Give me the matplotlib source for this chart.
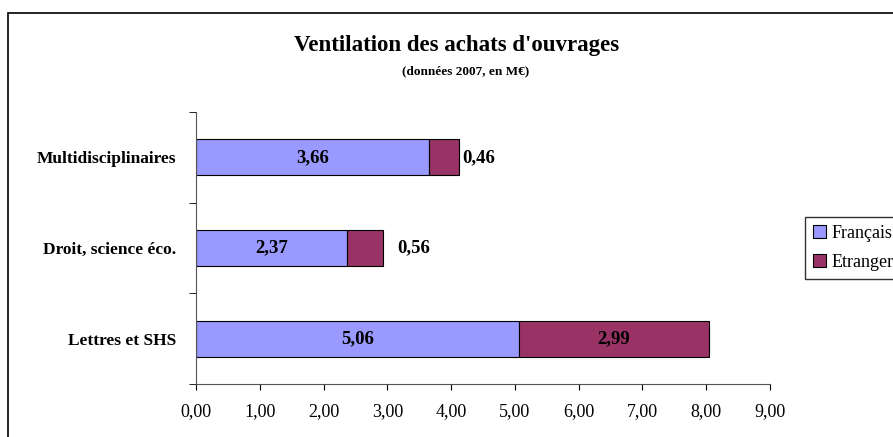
import matplotlib.pyplot as plt
from matplotlib.patches import Rectangle

plt.rcParams['font.family'] = ['Liberation Serif', 'DejaVu Serif']

categories = ["Lettres et SHS", "Droit, science éco.", "Multidisciplinaires"]
francais = [5.06, 2.37, 3.66]
etrangers = [2.99, 0.56, 0.46]
series_names = ["Français", "Etrangers"]
xticks = [0, 1, 2, 3, 4, 5, 6, 7, 8, 9]

c_fr = "#9999FF"
c_et = "#993366"


def fmt(v):
    return f"{v:.2f}".replace(".", ",")


fig = plt.figure(figsize=(8.93, 4.37), dpi=100)
ax = fig.add_axes([196 / 893, 1 - 384 / 437, 574 / 893, 272 / 437])

y = list(range(len(categories)))
b1 = ax.barh(y, francais, height=0.4, color=c_fr, edgecolor="black", linewidth=0.8,
             label=series_names[0])
b2 = ax.barh(y, etrangers, left=francais, height=0.4, color=c_et, edgecolor="black",
             linewidth=0.8, label=series_names[1])

for i in y:
    ax.text(francais[i] / 2, i, fmt(francais[i]), ha="center", va="center",
            fontsize=13.5, fontweight="bold")
    end = francais[i] + etrangers[i]
    if etrangers[i] > 1:
        ax.text(francais[i] + etrangers[i] / 2, i, fmt(etrangers[i]), ha="center",
                va="center", fontsize=13.5, fontweight="bold")
    else:
        ax.text(end + 0.05 + (0.18 if etrangers[i] > 0.5 else 0), i, fmt(etrangers[i]),
                ha="left", va="center", fontsize=13.5, fontweight="bold")

ax.set_xlim(0, 9)
ax.set_ylim(-0.5, len(categories) - 0.5)
ax.set_xticks(xticks)
ax.set_xticklabels([fmt(t) for t in xticks], fontsize=13)
ax.set_yticks(y)
ax.set_yticklabels(categories, fontsize=12.5, fontweight="bold")
ax.tick_params(axis="y", length=0, pad=14)
ax.set_yticks([-0.5, 0.5, 1.5, 2.5], minor=True)
ax.tick_params(axis="y", which="minor", length=5, direction="out")
ax.tick_params(axis="x", length=4, direction="out", pad=10)
for s in ["top", "right"]:
    ax.spines[s].set_visible(False)
ax.spines["left"].set_color("#555555")
ax.spines["bottom"].set_color("#555555")

fig.text(457 / 893, 1 - 46 / 437, "Ventilation des achats d'ouvrages", ha="center",
         va="center", fontsize=16.5, fontweight="bold")
fig.text(466 / 893, 1 - 71 / 437, "(données 2007, en M€)", ha="center", va="center",
         fontsize=9.5, fontweight="bold")

fig.legend(handles=[b1, b2], loc="upper left", bbox_to_anchor=(805 / 893, 1 - 217 / 437),
           frameon=True, fancybox=False, edgecolor="black", fontsize=13,
           handlelength=0.7, handleheight=0.7, handletextpad=0.3, borderpad=0.45,
           labelspacing=0.65, borderaxespad=0)

fig.patches.append(Rectangle((8 / 893, -0.1), 1.2, 1 - 13 / 437 + 0.1,
                             transform=fig.transFigure, fill=False,
                             edgecolor="black", linewidth=1.2))

fig.savefig("out.png", dpi=100)
